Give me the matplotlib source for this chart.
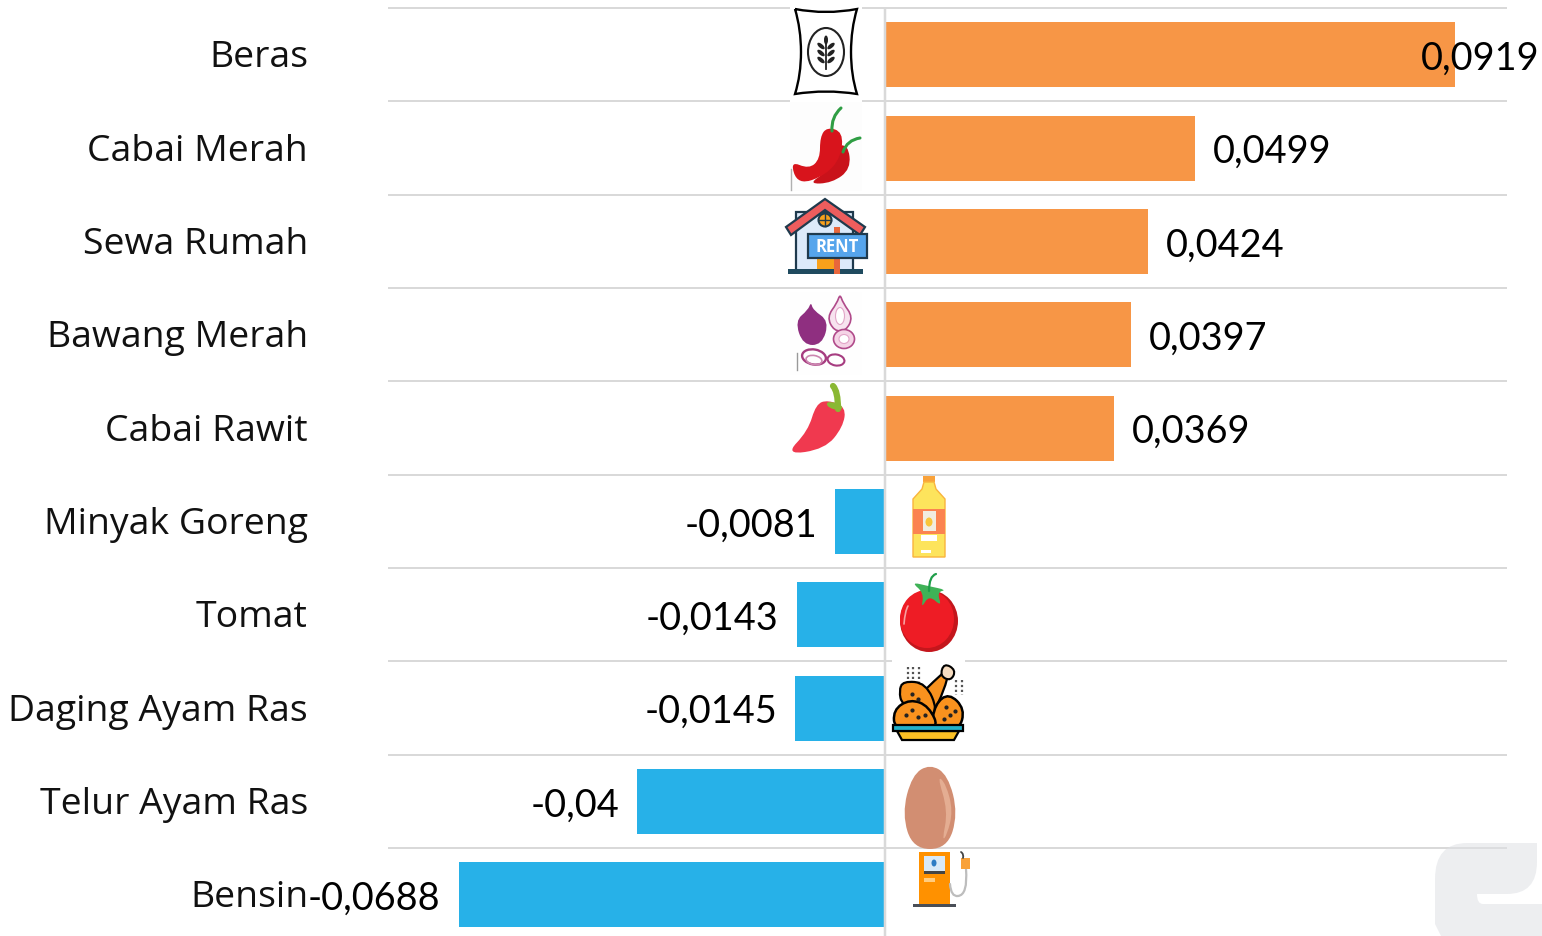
import numpy as np
import matplotlib
matplotlib.use('Agg')
import matplotlib.pyplot as plt
from matplotlib.path import Path
from matplotlib.patches import PathPatch, Ellipse, Rectangle, Polygon, Circle
from matplotlib.transforms import ScaledTranslation

W, H = 1542, 937

categories = ['Beras', 'Cabai Merah', 'Sewa Rumah', 'Bawang Merah', 'Cabai Rawit',
              'Minyak Goreng', 'Tomat', 'Daging Ayam Ras', 'Telur Ayam Ras', 'Bensin']
values = [0.0919, 0.0499, 0.0424, 0.0397, 0.0369,
          -0.0081, -0.0143, -0.0145, -0.04, -0.0688]
value_labels = ['0,0919', '0,0499', '0,0424', '0,0397', '0,0369',
                '-0,0081', '-0,0143', '-0,0145', '-0,04', '-0,0688']

ORANGE = '#f79646'
BLUE = '#27b1e8'
GRID = '#d9d9d9'
PX = 72 / 100  # one pixel in points


# smooth closed shape through control points (pixel coords)
def blob(ax, pts, color, z=5, ec='none', lw=0):
    pts = np.array(pts, dtype=float)
    mids = (pts + np.roll(pts, -1, axis=0)) / 2
    verts = [mids[-1]]
    codes = [Path.MOVETO]
    for p, m in zip(pts, mids):
        verts += [p, m]
        codes += [Path.CURVE3, Path.CURVE3]
    ax.add_patch(PathPatch(Path(verts, codes), fc=color, ec=ec, lw=lw, zorder=z))


def curve(ax, pts, color, lw, z=6):
    verts = np.array(pts, dtype=float)
    codes = [Path.MOVETO] + [Path.CURVE3] * (len(verts) - 1)
    ax.add_patch(PathPatch(Path(verts, codes), fc='none', ec=color, lw=lw, zorder=z,
                           capstyle='round'))


def rect(ax, x0, y0, x1, y1, color, z=5, ec='none', lw=0):
    ax.add_patch(Rectangle((x0, y0), x1 - x0, y1 - y0, fc=color, ec=ec, lw=lw, zorder=z))


def ell(ax, x, y, w, h, color, z=5, ec='none', lw=0, angle=0):
    ax.add_patch(Ellipse((x, y), w, h, angle=angle, fc=color, ec=ec, lw=lw, zorder=z))


def icon_bag(ax):
    rect(ax, 790, 6, 862, 103, 'white', z=2)
    # sack outline with pointed corners
    verts = [(795, 10), (826, 16), (857, 10), (851, 30), (851, 53), (851, 76), (857, 95),
             (826, 90), (795, 95), (801, 76), (801, 53), (801, 30), (795, 10)]
    codes = [Path.MOVETO, Path.CURVE3, Path.CURVE3, Path.CURVE3, Path.CURVE3,
             Path.CURVE3, Path.CURVE3, Path.CURVE3, Path.CURVE3,
             Path.CURVE3, Path.CURVE3, Path.CURVE3, Path.CURVE3]
    ax.add_patch(PathPatch(Path(verts, codes), fc='white', ec='black', lw=1.7, zorder=5))
    ell(ax, 826, 53, 36, 48, 'none', z=6, ec='#222222', lw=1.5)
    ax.plot([826, 826], [38, 70], color='#222222', lw=1.3, zorder=6)
    for y in [47, 54, 61]:
        ell(ax, 821, y, 9, 4, '#222222', z=6, angle=40)
        ell(ax, 831, y, 9, 4, '#222222', z=6, angle=-40)
    ell(ax, 826, 41, 4, 9, '#222222', z=6)


def icon_chili(ax):
    rect(ax, 790, 103, 862, 192, '#fdfdfd', z=2)
    ax.plot([790.5, 790.5], [170, 191], color='#b0b0b0', lw=1, zorder=3)
    blob(ax, [(848, 145), (851, 170), (832, 184), (808, 185), (828, 172), (834, 148)], '#c9121a')
    blob(ax, [(827, 128), (843, 133), (841, 158), (826, 176), (798, 186), (790, 162),
              (809, 170), (820, 160), (820, 138)], '#d8141c')
    curve(ax, [(841, 109), (831, 118), (832, 132)], '#2f9e44', 2.2)
    curve(ax, [(860, 139), (847, 141), (843, 153)], '#2f9e44', 2.2)


def icon_house(ax):
    rect(ax, 796, 213, 853, 272, '#dceafa', ec='#1f3a4d', lw=1.6)
    rect(ax, 817, 258, 834, 271, '#f9a11b', z=6)
    ax.add_patch(Polygon([(786, 228), (825, 200), (865, 228), (860, 236), (825, 211), (791, 236)],
                         fc='#ee5d5d', ec='#1f3a4d', lw=1.6, zorder=6))
    ax.add_patch(Circle((825, 221), 6.5, fc='#f9a11b', ec='#1f3a4d', lw=1.5, zorder=6))
    ax.plot([825, 825], [215, 227], color='#1f3a4d', lw=1, zorder=7)
    ax.plot([819, 831], [221, 221], color='#1f3a4d', lw=1, zorder=7)
    rect(ax, 788, 270, 863, 275, '#1f4a5f', z=7)
    rect(ax, 834, 228, 840, 275, '#e8673c', z=7)
    rect(ax, 808, 235, 867, 259, '#56a5ec', z=8, ec='#1f3a4d', lw=1.6)
    ax.text(837, 247, 'RENT', color='white', fontsize=12, fontweight='bold',
            family='Open Sans', ha='center', va='center', zorder=9)


def icon_onion(ax):
    rect(ax, 790, 293, 862, 376, '#fefefe', z=2)
    ax.plot([796.5, 796.5], [354, 371], color='#999999', lw=1, zorder=3)
    blob(ax, [(811, 303), (813, 311), (829, 322), (822, 346), (803, 346), (795, 322), (808, 311)],
         '#8f2f80')
    blob(ax, [(840, 295), (843, 304), (853, 318), (846, 332), (834, 332), (827, 318), (837, 304)],
         '#f7e3ef', ec='#b04a8a', lw=1.2)
    ell(ax, 840, 317, 9, 17, 'white', z=6, ec='#e2a6c8', lw=0.8)
    ell(ax, 844, 340, 21, 19, '#f5d4e6', ec='#b04a8a', lw=1.2)
    ell(ax, 844, 340, 10, 9, 'white', z=6, ec='#e2a6c8', lw=0.8)
    ell(ax, 814, 358, 24, 15, 'none', ec='#a63c80', lw=1.7, angle=10)
    ell(ax, 814, 361, 16, 9, 'none', ec='#cc86b0', lw=1.2, angle=10)
    ell(ax, 836, 361, 17, 11, 'none', ec='#a63c80', lw=1.5, angle=10)


def icon_rawit(ax):
    curve(ax, [(833, 387), (838, 392), (838, 410)], '#8ab833', 4.5)
    blob(ax, [(828, 401), (846, 408), (843, 428), (825, 450), (785, 456), (808, 432), (816, 405)],
         '#f0394f')
    blob(ax, [(826, 402), (842, 405), (842, 412), (828, 409)], '#8ab833', z=6)


def icon_oil(ax):
    rect(ax, 923, 477, 935, 483, '#f9a23a')
    ax.add_patch(Polygon([(924, 483), (934, 483), (936, 490), (945, 500), (945, 558), (913, 558),
                          (913, 500), (922, 490)], fc='#fde45c', ec='#f9b43c', lw=1, zorder=5))
    rect(ax, 913, 510, 945, 535, '#fb8350', z=6)
    rect(ax, 923, 512, 936, 532, '#f1ece0', z=7)
    ell(ax, 929, 523, 7, 9, '#f9c53a', z=8)
    rect(ax, 921, 536, 937, 542, 'white', z=6)
    rect(ax, 921, 551, 931, 554, 'white', z=6)


def icon_tomato(ax):
    ell(ax, 929, 622, 58, 62, '#c4161c')
    ell(ax, 927, 620, 54, 58, '#ee1c25', z=6)
    curve(ax, [(904, 625), (905, 612), (908, 607)], '#f8a0a0', 1.2, z=7)
    blob(ax, [(911, 583), (928, 587), (947, 591), (937, 593), (942, 608), (929, 596), (921, 610), (924, 594)],
         '#3fb257', z=7)
    curve(ax, [(936, 575), (929, 577), (929, 592)], '#1f9e4a', 1.6, z=8)


def icon_chicken(ax):
    rect(ax, 892, 660, 965, 664, 'white', z=2)
    ax.add_patch(Polygon([(897, 732), (959, 732), (954, 741), (902, 741)], fc='#fbbf24',
                         ec='black', lw=1.6, zorder=8))
    rect(ax, 893, 726, 963, 732, '#22b0c8', z=9, ec='black', lw=1.6)
    blob(ax, [(950, 668), (944, 692), (932, 716), (914, 702), (934, 682)], '#f9921e', ec='black', lw=1.6)
    blob(ax, [(944, 664), (956, 671), (951, 682), (940, 677)], '#f6dcc0', z=6, ec='black', lw=1.5)
    blob(ax, [(903, 682), (926, 684), (938, 712), (926, 718), (902, 706), (899, 692)],
         '#f9921e', z=6, ec='black', lw=1.6)
    blob(ax, [(910, 700), (929, 707), (940, 732), (895, 732), (893, 711)], '#f9921e', z=7, ec='black', lw=1.8)
    blob(ax, [(949, 694), (965, 710), (959, 732), (931, 730), (935, 705)], '#f9921e', z=6, ec='black', lw=1.8)
    dot_x = [906, 912, 918, 925, 946, 950, 955, 912, 918, 944]
    dot_y = [716, 711, 718, 716, 708, 716, 712, 695, 700, 720]
    ax.scatter(dot_x, dot_y, s=4, c='#222222', zorder=8)
    for x in [908, 913, 919, 956, 962]:
        ax.plot([x, x], [668 if x < 930 else 681, 684 if x < 930 else 696],
                color='#555555', lw=1.6, ls=(0, (1, 1.2)), zorder=5)


def icon_egg(ax):
    blob(ax, [(930, 765), (948, 776), (958, 815), (947, 850), (913, 850), (902, 815), (912, 776)], '#d28e72')
    blob(ax, [(937, 776), (946, 785), (953, 812), (947, 836), (942, 842), (948, 812)], '#e4ad92', z=6)


def icon_pump(ax):
    rect(ax, 919, 853, 950, 906, '#ff9100')
    rect(ax, 924, 857, 945, 872, '#d8e9f8', z=6)
    rect(ax, 924, 872, 945, 875, '#444444', z=6)
    ell(ax, 934, 864, 5, 7, '#2d7cc4', z=7)
    rect(ax, 924, 879, 935, 883, '#ffcc80', z=6)
    rect(ax, 913, 905, 956, 908, '#4a4f57', z=7)
    curve(ax, [(950, 885), (951, 898), (958, 897)], '#bdbdbd', 1.6)
    curve(ax, [(958, 897), (968, 896), (966, 870)], '#bdbdbd', 1.6)
    rect(ax, 961, 859, 970, 870, '#f9a23a', z=6)
    curve(ax, [(963, 859), (964, 855), (961, 853)], '#444444', 1.3)


def watermark(ax):
    verts = [(1467, 844), (1537, 844), (1537, 863), (1537, 895), (1507, 895), (1477, 895),
             (1477, 905), (1483, 905), (1542, 905), (1542, 937), (1441, 937),
             (1435, 925), (1435, 880), (1435, 844), (1467, 844)]
    codes = [Path.MOVETO, Path.LINETO, Path.LINETO, Path.CURVE3, Path.CURVE3, Path.LINETO,
             Path.CURVE3, Path.CURVE3, Path.LINETO, Path.LINETO, Path.LINETO,
             Path.LINETO, Path.LINETO, Path.CURVE3, Path.CURVE3]
    ax.add_patch(PathPatch(Path(verts, codes), fc='#dfe1e5', ec='none', alpha=0.55, zorder=1))


if __name__ == '__main__':
    fig = plt.figure(figsize=(W / 100, H / 100), dpi=100, facecolor='white')
    ax = fig.add_axes([388 / W, 0, (1507 - 388) / W, (H - 9) / H])

    colors = [ORANGE if v > 0 else BLUE for v in values]
    y = np.arange(len(values))
    ax.barh(y, values, height=0.696, color=colors, zorder=2)

    ax.set_xlim(-0.0802, 0.1003)
    ax.set_ylim(9.441, -0.5)
    ax.set_xticks([])
    ax.set_yticks(y)
    ax.set_yticklabels(categories, family='Open Sans', fontsize=26.9, color='#111111')
    ax.tick_params(axis='y', length=0, pad=80 * PX)
    shift = ScaledTranslation(0, 2 / 100, fig.dpi_scale_trans)
    for lab in ax.get_yticklabels():
        lab.set_transform(lab.get_transform() + shift)
    for s in ax.spines.values():
        s.set_visible(False)

    # row separators and zero line
    ax.hlines(y - 0.5, -0.0802, 0.1003, color=GRID, lw=2 * PX, zorder=1, clip_on=False)
    ax.axvline(0, color=GRID, lw=2.5 * PX, zorder=3)

    for i, (v, lab) in enumerate(zip(values, value_labels)):
        if i == 0:
            dx, ha = -34, 'left'  # this one sits over the bar end
        elif v > 0:
            dx, ha = 18, 'left'
        else:
            dx, ha = -18, 'right'
        ax.annotate(lab, (v, i), xytext=(dx * PX, -3 * PX), textcoords='offset points',
                    ha=ha, va='center', family='Lato', fontsize=27.3, color='black',
                    annotation_clip=False, zorder=10)

    # overlay in pixel coordinates for the icons
    ov = fig.add_axes([0, 0, 1, 1], facecolor='none')
    ov.set_xlim(0, W)
    ov.set_ylim(H, 0)
    ov.axis('off')
    watermark(ov)
    icon_bag(ov)
    icon_chili(ov)
    icon_house(ov)
    icon_onion(ov)
    icon_rawit(ov)
    icon_oil(ov)
    icon_tomato(ov)
    icon_chicken(ov)
    icon_egg(ov)
    icon_pump(ov)

    fig.savefig('out.png', dpi=100)
